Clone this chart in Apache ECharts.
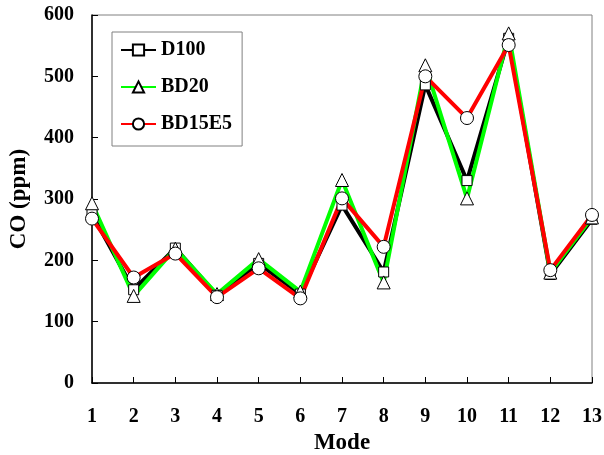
<!DOCTYPE html>
<html><head><meta charset="utf-8">
<script src="https://cdn.jsdelivr.net/npm/echarts@6/dist/echarts.min.js"></script>
<style>html,body{margin:0;padding:0;background:#fff}#c{width:604px;height:455px}</style>
</head><body><div id="c"></div>
<script>
const modes = [1,2,3,4,5,6,7,8,9,10,11,12,13];
const d100  = [275,152,220,143,195,145,290,181,486,330,562,177,267];
const bd20  = [293,142,219,145,202,149,331,164,518,301,570,180,270];
const bd15e5= [268,172,211,140,187,138,301,222,500,432,551,184,274];
const yTicks = [0,100,200,300,400,500,600];

const font = '"Liberation Serif","Times New Roman",serif';
function mk(name, vals, color, symbol, size){
  return {
    name, type:'line', data: modes.map((m,i)=>[m, vals[i]]),
    symbol, symbolSize:size, showAllSymbol:true,
    lineStyle:{color, width:4},
    itemStyle:{color:'#fff', borderColor:'#000', borderWidth:1},
    color: color
  };
}
const chart = echarts.init(document.getElementById('c'), null, {renderer:'canvas'});
chart.setOption({
  animation:false,
  backgroundColor:'#fff',
  grid:{left:92, right:12, top:15, bottom:72, containLabel:false, outerBoundsMode:'none',
        show:true, borderColor:'#808080', borderWidth:1},
  legend:{
    orient:'vertical', left:112, top:32,
    padding:[8,10,12,8], itemGap:17, itemWidth:35, itemHeight:14,
    borderColor:'#808080', borderWidth:1, backgroundColor:'#fff',
    textStyle:{fontFamily:font, fontWeight:'bold', fontSize:20, color:'#000', lineHeight:20},
    data:['D100','BD20','BD15E5']
  },
  xAxis:{
    type:'value', min:1, max:13, interval:1,
    name:'Mode', nameLocation:'middle', nameGap:47,
    nameTextStyle:{fontFamily:font, fontWeight:'bold', fontSize:23, color:'#000'},
    axisLine:{lineStyle:{color:'#000', width:1.5}},
    axisTick:{inside:true, length:6, lineStyle:{color:'#000', width:1}},
    axisLabel:{margin:24, fontFamily:font, fontWeight:'bold', fontSize:20, color:'#000'},
    splitLine:{show:false}
  },
  yAxis:{
    type:'value', min:0, max:600, interval:100,
    name:'CO (ppm)', nameLocation:'middle', nameGap:61,
    nameTextStyle:{fontFamily:font, fontWeight:'bold', fontSize:23, color:'#000'},
    axisLine:{show:true, lineStyle:{color:'#000', width:1.5}},
    axisTick:{show:true, inside:true, length:6, lineStyle:{color:'#000', width:1}},
    axisLabel:{margin:18, fontFamily:font, fontWeight:'bold', fontSize:20, color:'#000',
      formatter:v=> yTicks.includes(v) ? String(v) : ''},
    splitLine:{show:false}
  },
  series:[
    mk('D100', d100, '#000000', 'rect', 10),
    mk('BD20', bd20, '#00ff00', 'triangle', 13),
    mk('BD15E5', bd15e5, '#ff0000', 'circle', 13)
  ]
});
</script></body></html>
